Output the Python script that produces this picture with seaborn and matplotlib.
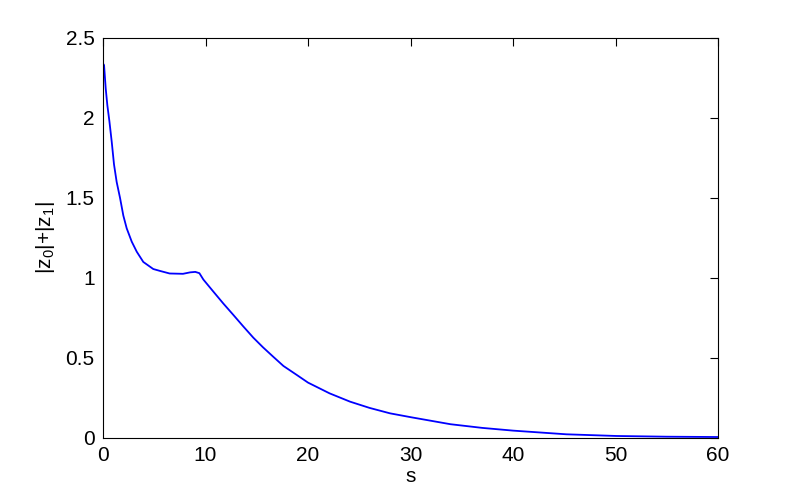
import matplotlib
matplotlib.use("Agg")
import matplotlib.pyplot as plt
import seaborn as sns
import pandas as pd

# --- data ---
s_vals = [0.0, 0.1, 0.26, 0.42, 0.62, 0.85, 1.07, 1.33, 1.66, 1.98, 2.31, 2.8,
          3.29, 3.93, 4.9, 5.56, 6.5, 7.8, 8.49, 9.0, 9.4, 9.79, 10.76, 11.74,
          12.7, 13.7, 14.66, 15.6, 16.6, 17.6, 18.9, 20.0, 22.1, 24.1, 26.0,
          28.0, 30.1, 33.9, 37.0, 40.0, 45.2, 50.1, 55.0, 60.0]
z_vals = [2.34, 2.33, 2.185, 2.08, 1.98, 1.85, 1.71, 1.60, 1.50, 1.39, 1.31, 1.227,
          1.164, 1.10, 1.056, 1.044, 1.028, 1.026, 1.035, 1.038, 1.030, 0.99, 0.915, 0.84,
          0.77, 0.696, 0.627, 0.567, 0.508, 0.45, 0.394, 0.346, 0.279, 0.227, 0.188,
          0.154, 0.129, 0.086, 0.063, 0.046, 0.023, 0.0125, 0.008, 0.006]
x_ticks = [0, 10, 20, 30, 40, 50, 60]
y_ticks = [0, 0.5, 1, 1.5, 2, 2.5]
y_ticklabels = ["0", "0.5", "1", "1.5", "2", "2.5"]

df = pd.DataFrame({"s": s_vals, "z": z_vals})

sns.set_theme(style="white")
plt.rcParams["font.family"] = ["Liberation Sans", "DejaVu Sans"]
plt.rcParams["mathtext.default"] = "regular"

fig = plt.figure(figsize=(7.95, 4.93), dpi=100)
ax = fig.add_axes([0.1296, 0.1116, 0.7736, 0.8114])

sns.lineplot(data=df, x="s", y="z", ax=ax, color="#0000ff", linewidth=1.3)

ax.set_xlim(0, 60)
ax.set_ylim(0, 2.5)
ax.set_xticks(x_ticks)
ax.set_xticklabels([str(t) for t in x_ticks])
ax.set_yticks(y_ticks)
ax.set_yticklabels(y_ticklabels)
ax.tick_params(direction="in", length=6, width=0.8, colors="black",
               labelsize=15, top=True, right=True, pad=6)
for sp in ax.spines.values():
    sp.set_color("black")
    sp.set_linewidth(0.8)

ax.set_xlabel("s", fontsize=15, color="black", labelpad=1)
ax.set_ylabel("|z$_0$|+|z$_1$|", fontsize=15, color="black", labelpad=6)

fig.savefig("out.png", dpi=100)
